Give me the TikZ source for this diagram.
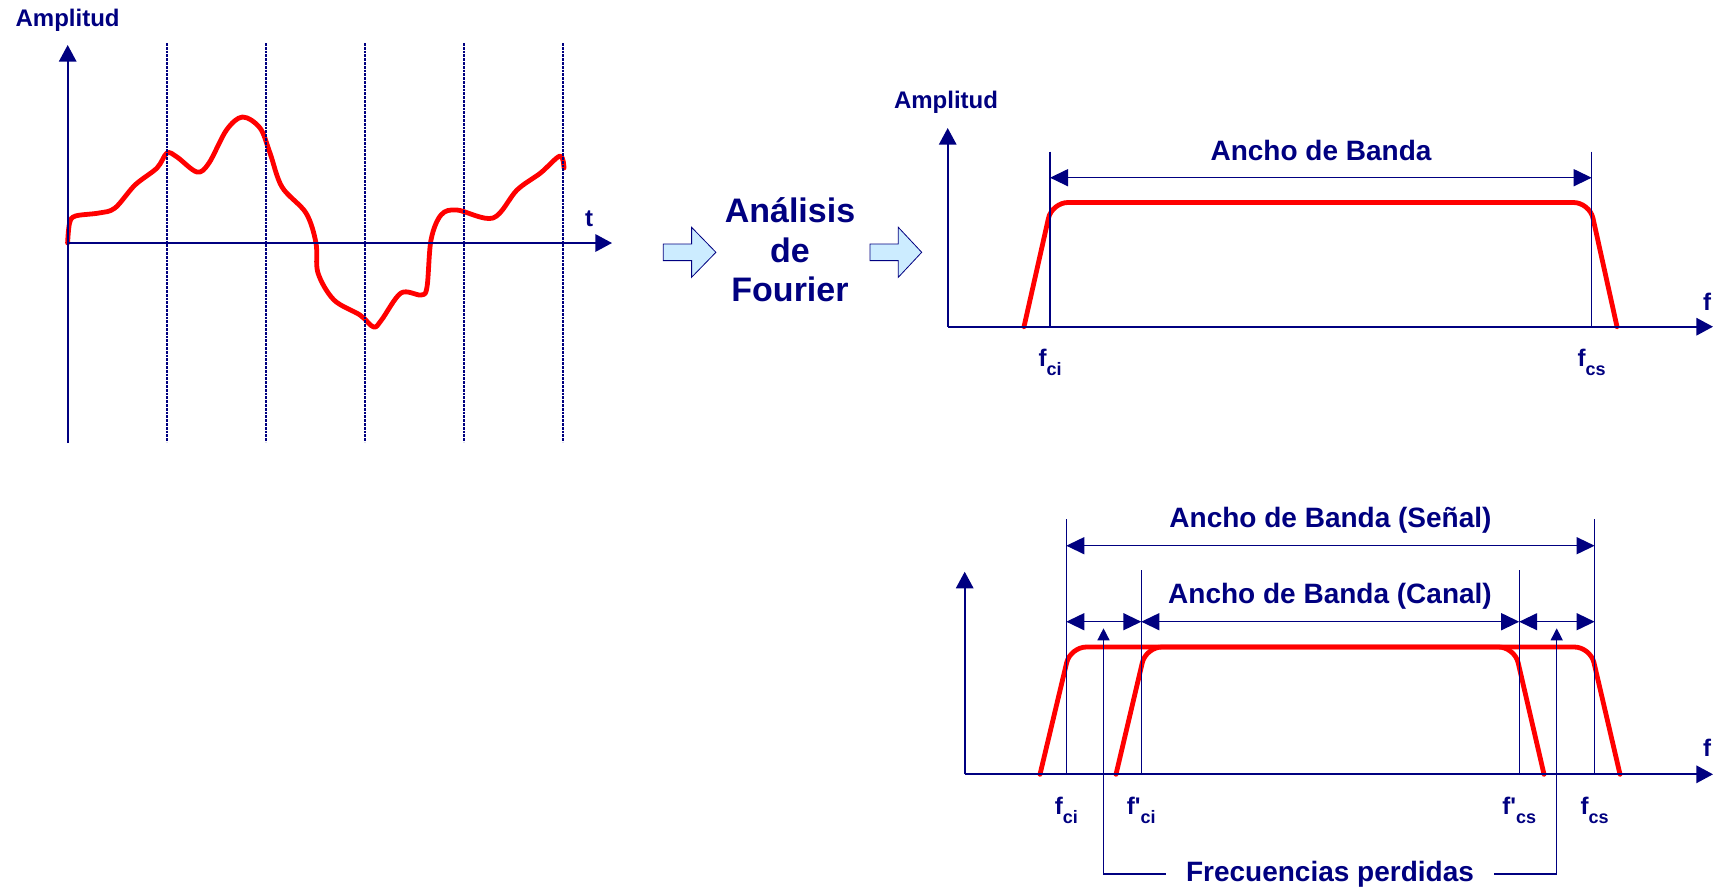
\documentclass[tikz,border=0pt]{standalone}
\usepackage{fontspec}
\setmainfont{Liberation Sans}
\usetikzlibrary{arrows.meta, positioning}
\definecolor{navy}{RGB}{0,0,128}
\definecolor{paleblue}{RGB}{204,236,255}
\newcommand{\fsub}[2]{#1\raisebox{-4.5pt}{\fontsize{9}{10}\selectfont #2}}

\begin{document}
\begin{tikzpicture}[
  x=0.5pt, y=-0.5pt,
  lbl/.style={text=navy, font=\bfseries\fontsize{12}{14}\selectfont, inner sep=0pt},
  big/.style={text=navy, font=\bfseries\fontsize{14}{16}\selectfont, inner sep=0pt},
  axisline/.style={draw=navy, line width=0.9pt, -{Triangle[length=8.3pt,width=8.7pt]}},
  grid/.style={draw=navy, line width=1.2pt, dash pattern=on 1.4pt off 0.5pt},
  guide/.style={draw=navy, line width=0.6pt},
  dim/.style={draw=navy, line width=0.7pt,
    {Triangle[length=9pt,width=8.5pt]}-{Triangle[length=9pt,width=8.5pt]}},
  lostarr/.style={draw=navy, line width=0.7pt, -{Triangle[length=6pt,width=6pt]}},
  signal/.style={draw=red, line width=2.4pt, line cap=round, line join=round},
  fatarrow/.style={draw=navy, line width=0.4pt, fill=paleblue}
]
  \useasboundingbox (0,0) rectangle (1713,890);

  % Time signal
  \coordinate (o1)    at (67.7,243);
  \coordinate (y1top) at (67.7,45);
  \coordinate (y1bot) at (67.7,443);
  \coordinate (x1end) at (612,243);
  \draw[signal] plot[smooth, tension=0.55] coordinates {
    (67.6,243) (69.6,223) (75.5,216) (99,213) (115,208) (135,185) (157,168)
    (167,153) (177,157) (197,172) (209,163) (226.5,130) (242.5,117) (260,128)
    (270,153) (282,187) (306,213) (316,243) (318,273) (334,300) (360,315)
    (373.6,327) (381.5,320) (401,293) (421,295) (427,287) (431,240) (441,215)
    (457,210) (493,218) (517,190) (540.5,173) (560,156) (564,168)};
  \foreach \x in {166.7,265.7,364.7,463.7,562.7}
    \draw[grid] (\x,43) -- (\x,442);
  \draw[axisline] (y1bot) -- (y1top);
  \draw[axisline] (o1) -- (x1end);
  \node[lbl] (amp1) at (67.6,20) {Amplitud};
  \node[lbl] (tlab) at (589,219) {t};

  % Fourier
  \foreach \bx/\hl in {663.3/24.3, 870/23.4}
    \draw[fatarrow] (\bx,244) -- ++(28.3,0) -- ++(0,-16.7) -- ++(\hl,25)
      -- ++(-\hl,25) -- ++(0,-16.7) -- ++(-28.3,0) -- cycle;
  \node[text=navy, font=\bfseries\fontsize{17}{19.75}\selectfont, align=center,
    inner sep=0pt] (fourier) at (790,250) {Análisis\\de\\Fourier};

  % Spectrum
  \coordinate (o2)    at (947.7,326.7);
  \coordinate (y2top) at (947.7,128);
  \coordinate (x2end) at (1713,326.7);
  \coordinate (ci2)   at (1050,326.7);
  \coordinate (cs2)   at (1591.7,326.7);
  \coordinate (ci2t)  at (1050,151.7);
  \coordinate (cs2t)  at (1591.7,151.7);
  \coordinate (ci2a)  at (1050,177.7);
  \coordinate (cs2a)  at (1591.7,177.7);
  \draw[signal, rounded corners=8pt] (1024,326.7) -- (1052,202.5)
    -- (1589.5,202.5) -- (1617,326.7);
  \draw[guide] (ci2t) -- (ci2);
  \draw[guide] (cs2t) -- (cs2);
  \draw[dim] (ci2a) -- (cs2a);
  \draw[axisline] (o2) -- (y2top);
  \draw[axisline] (o2) -- (x2end);
  \node[lbl] (amp2) at (946,102) {Amplitud};
  \node[lbl] (flab2) at (1707,301.7) {f};
  \node[big] (bw) at (1321,150) {Ancho de Banda};
  \node[lbl] (fci2) at (1050,362.5) {\fsub{f}{ci}};
  \node[lbl] (fcs2) at (1591.7,362.5) {\fsub{f}{cs}};

  % Signal vs channel
  \coordinate (o3)    at (964.7,774.3);
  \coordinate (y3top) at (964.7,571.7);
  \coordinate (x3end) at (1713,774.3);
  \coordinate (ci3)   at (1066.3,774.3);
  \coordinate (pci3)  at (1141.3,774.3);
  \coordinate (pcs3)  at (1519.2,774.3);
  \coordinate (cs3)   at (1594.6,774.3);
  \coordinate (ci3t)  at (1066.3,519.3);
  \coordinate (cs3t)  at (1594.6,519.3);
  \coordinate (pci3t) at (1141.3,570);
  \coordinate (pcs3t) at (1519.2,570);
  \coordinate (ci3a)  at (1066.3,545.7);
  \coordinate (cs3a)  at (1594.6,545.7);
  \coordinate (ci3b)  at (1066.3,621.7);
  \coordinate (pci3b) at (1141.3,621.7);
  \coordinate (pcs3b) at (1519.2,621.7);
  \coordinate (cs3b)  at (1594.6,621.7);
  \coordinate (lostL) at (1103.5,628.3);
  \coordinate (lostR) at (1556.7,628.3);
  \draw[signal, rounded corners=8pt] (1040,774.3) -- (1070.4,647)
    -- (1590.3,647) -- (1620,774.3);
  \draw[signal, rounded corners=8pt] (1116,774.3) -- (1146,647)
    -- (1514.5,647) -- (1544,774.3);
  \draw[guide] (ci3t) -- (ci3);
  \draw[guide] (cs3t) -- (cs3);
  \draw[guide] (pci3t) -- (pci3);
  \draw[guide] (pcs3t) -- (pcs3);
  \draw[dim] (ci3a) -- (cs3a);
  \draw[dim] (ci3b) -- (pci3b);
  \draw[dim] (pci3b) -- (pcs3b);
  \draw[dim] (pcs3b) -- (cs3b);
  \draw[axisline] (o3) -- (y3top);
  \draw[axisline] (o3) -- (x3end);
  \node[lbl] (flab3) at (1707,747.5) {f};
  \node[big] (bwsig) at (1330.5,520) {Ancho de Banda (Señal)};
  \node[big] (bwch) at (1330,596.5) {Ancho de Banda (Canal)};
  \node[lbl] (fci3) at (1066.3,810) {\fsub{f}{ci}};
  \node[lbl] (pfci3) at (1141.3,810) {\fsub{f\textquotesingle}{ci}};
  \node[lbl] (pfcs3) at (1519.2,810) {\fsub{f\textquotesingle}{cs}};
  \node[lbl] (fcs3) at (1594.6,810) {\fsub{f}{cs}};
  \node[big, inner xsep=10pt] (lost) at (1330,874) {Frecuencias perdidas};
  \draw[lostarr] (lost.west) -| (lostL);
  \draw[lostarr] (lost.east) -| (lostR);
\end{tikzpicture}
\end{document}
